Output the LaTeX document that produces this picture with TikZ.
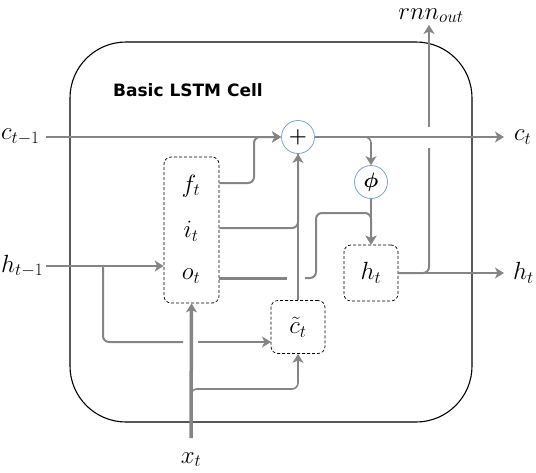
\documentclass[tikz,border=0pt]{standalone}
\usepackage{amsmath}
\usepackage{bm}
\usepackage{fontspec}
\newfontfamily\titlefont{DejaVu Sans}
\usetikzlibrary{arrows.meta}
\definecolor{lgray}{HTML}{858585}
\definecolor{cblue}{HTML}{7FA0D8}
\begin{document}
\begin{tikzpicture}[x=1pt,y=-1pt,
  tip/.style={-{Stealth[length=9pt,width=11pt,inset=2.5pt]}},
  conn/.style={draw=lgray, line width=2pt, rounded corners=6pt},
  lbl/.style={font=\fontsize{24}{28}\selectfont, inner sep=2pt},
  gatebox/.style={draw, dash pattern=on 3pt off 2pt, rounded corners=7pt, line width=0.7pt, inner sep=0pt, font=\fontsize{24}{28}\selectfont},
  opcirc/.style={circle, draw=cblue, fill=white, line width=0.8pt, minimum size=33pt, inner sep=0pt},
  cellbox/.style={draw, line width=1.1pt, rounded corners=56pt, inner sep=0pt}
]
\useasboundingbox (0,0) rectangle (536,472);

% outer cell
\node[cellbox, minimum width=402pt, minimum height=380pt] (cell) at (271,232) {};
\node[font=\titlefont\bfseries\fontsize{17}{20}\selectfont, anchor=west, inner sep=0pt] (title) at (113,90) {Basic LSTM Cell};

% operator circles
\node[opcirc] (plus) at (298,137) {\fontsize{22}{22}\selectfont$\bm{+}$};
\node[opcirc] (phi) at (371,182) {\fontsize{20}{20}\selectfont$\bm{\phi}$};

% gate boxes
\node[gatebox, minimum width=55pt, minimum height=146pt] (fio) at (191.5,230) {};
\node[lbl] (fl) at (191,186) {$f_t$};
\node[lbl] (il) at (191,231) {$i_t$};
\node[lbl] (ol) at (191,276) {$o_t$};
\node[gatebox, minimum width=54pt, minimum height=53pt] (ctil) at (298,327) {$\tilde{c}_t$};
\node[gatebox, minimum width=54pt, minimum height=56pt] (ht) at (371,273) {$h_t$};

% outer labels
\node[lbl, anchor=west, inner sep=0pt] (cprev) at (1,137) {$c_{t-1}$};
\node[lbl, anchor=west, inner sep=0pt] (cnext) at (514,137) {$c_t$};
\node[lbl, anchor=west, inner sep=0pt] (hprev) at (1,266) {$h_{t-1}$};
\node[lbl, anchor=west, inner sep=0pt] (hnext) at (513,273) {$h_t$};
\node[lbl, anchor=base] (xt) at (191,463) {$x_t$};
\node[lbl, anchor=base] (rnn) at (431,19) {$rnn_{out}$};

% helper coordinates
\coordinate (fcorner) at (254,137);
\coordinate (oend) at (287,278);
\coordinate (ostart) at (305,278);
\coordinate (oup) at (316,213);
\coordinate (hsplit) at (103,266);
\coordinate (hgap1) at (183,342);
\coordinate (hgap2) at (198,342);
\coordinate (cin) at (271,342);
\coordinate (xsplit) at (191,420);
\coordinate (xbranch) at (298,389);
\coordinate (xbottom) at (191,438);
\coordinate (rlow) at (429,148);
\coordinate (rhigh) at (429,127);
\coordinate (cstart) at (46,137);
\coordinate (hstart) at (46,266);
\coordinate (cend) at (504,137);
\coordinate (hend) at (504,273);

% cell state line
\draw[conn, tip] (cstart) -- (plus.west);
\draw[conn, tip] (plus.east) -- (cend);
\draw[conn, line width=1.6pt, tip] (plus.east) -| (phi.north);
\draw[conn, line width=1.6pt, tip] (phi.south) -- (ht.north);

% gates to plus
\draw[conn, tip] (fio.east |- 0,183) -| (fcorner) -- (plus.west);
\draw[conn] (fio.east |- 0,228) -| (plus.south);
\draw[conn, line width=1.6pt, tip] (ctil.north) -- (plus.south);

% o gate to h_t
\draw[conn, line width=3pt] (fio.east |- oend) -- (oend);
\draw[conn, tip] (ostart) -| (oup) -| (ht.north);

% h_{t-1}
\draw[conn, tip] (hstart) -- (fio.west |- hstart);
\draw[conn] (hsplit) |- (hgap1);
\draw[conn, line width=1.6pt, tip] (hgap2) -- (cin);

% x_t
\draw[conn, line width=3.5pt, tip] (xbottom) -- (fio.south);
\draw[conn, line width=1.6pt, tip] (xsplit) |- (xbranch) -- (ctil.south);

% h_t outputs
\draw[conn, tip] (ht.east) -- (hend);
\draw[conn] (ht.east) -| (rlow);
\draw[conn, tip] (rhigh) -- (rhigh |- rnn.south);
\end{tikzpicture}
\end{document}
